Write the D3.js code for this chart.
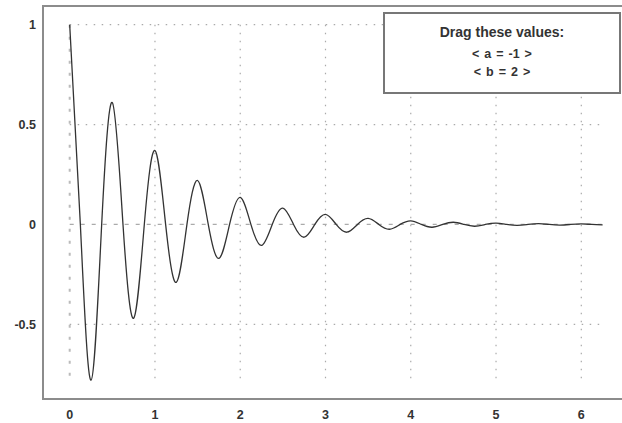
<!DOCTYPE html>
<html><head><meta charset="utf-8">
<script src="https://cdn.jsdelivr.net/npm/d3@7"></script>
<style>body{margin:0;background:#fff}svg{display:block}text{font-family:"Liberation Sans",Arial,sans-serif;font-weight:bold;fill:#333}</style>
</head><body><svg id="c" width="622" height="423"></svg>
<script>
// Curve samples: extrema and zero crossings
const xs = [0,0.125,0.25,0.375,0.5,0.625,0.75,0.875,1,1.125,1.25,1.375,1.5,1.625,1.75,1.875,2,2.125,2.25,2.375,2.5,2.625,2.75,2.875,3,3.125,3.25,3.375,3.5,3.625,3.75,3.875,4,4.125,4.25,4.375,4.5,4.625,4.75,4.875,5,5.125,5.25,5.375,5.5,5.625,5.75,5.875,6,6.125,6.25];
const ys = [1,0,-0.78,0,0.61,0,-0.47,0,0.37,0,-0.29,0,0.22,0,-0.17,0,0.135,0,-0.105,0,0.082,0,-0.064,0,0.05,0,-0.039,0,0.03,0,-0.024,0,0.018,0,-0.014,0,0.011,0,-0.009,0,0.007,0,-0.005,0,0.004,0,-0.003,0,0.0025,0,-0.002];
const xTicks = [0,1,2,3,4,5,6];
const yTicks = [-0.5,0,0.5,1];
const xGridExtent = [0, 6.283];
const yGridExtent = [-0.8, 1];
const legendLines = ["Drag these values:", "< a = -1 >", "< b = 2 >"];

const svg = d3.select("#c");
const x = d3.scaleLinear().domain([0,6]).range([69.7,581.3]);
const y = d3.scaleLinear().domain([-0.5,1]).range([324.3,24.7]);

// frame
svg.append("rect").attr("x",43).attr("y",6).attr("width",640).attr("height",393)
  .attr("fill","none").attr("stroke","#8c8c8c").attr("stroke-width",2);

// grid
const g = svg.append("g");
xTicks.filter(d=>d!==0).forEach(d=>{
  g.append("line").attr("x1",x(d)).attr("x2",x(d)).attr("y1",y(yGridExtent[1])).attr("y2",y(yGridExtent[0]))
   .attr("stroke","#aaa").attr("stroke-width",1.2).attr("stroke-dasharray","1.5,6.5");
});
yTicks.filter(d=>d!==0).forEach(d=>{
  g.append("line").attr("y1",y(d)).attr("y2",y(d)).attr("x1",x(xGridExtent[0])).attr("x2",x(xGridExtent[1]))
   .attr("stroke","#aaa").attr("stroke-width",1.2).attr("stroke-dasharray","1.5,6.5");
});
// zero axes (dashed)
g.append("line").attr("x1",x(0)).attr("x2",x(0)).attr("y1",y(yGridExtent[1])).attr("y2",y(yGridExtent[0]))
  .attr("stroke","#bbb").attr("stroke-width",2).attr("stroke-dasharray","3,9");
g.append("line").attr("y1",y(0)).attr("y2",y(0)).attr("x1",x(xGridExtent[0])).attr("x2",x(xGridExtent[1]))
  .attr("stroke","#aaa").attr("stroke-width",1.3).attr("stroke-dasharray","4,7");

// tick labels
svg.append("g").selectAll("text").data(xTicks).join("text")
  .attr("x",d=>x(d)).attr("y",419).attr("text-anchor","middle").attr("font-size",12.5).text(d=>d);
svg.append("g").selectAll("text").data(yTicks).join("text")
  .attr("x",36).attr("y",d=>y(d)+4.5).attr("text-anchor","end").attr("font-size",12.5).text(d=>d);

// curve
const pts = xs.map((v,i)=>[v,ys[i]]);
svg.append("path").datum(pts)
  .attr("d", d3.line().x(d=>x(d[0])).y(d=>y(d[1])).curve(d3.curveNatural))
  .attr("fill","none").attr("stroke","#333").attr("stroke-width",1.3);

// legend
svg.append("rect").attr("x",384).attr("y",13).attr("width",236).attr("height",80)
  .attr("fill","#fff").attr("stroke","#777").attr("stroke-width",2);
svg.append("g").selectAll("text").data(legendLines).join("text")
  .attr("x",502).attr("y",(d,i)=>[37,58,76][i]).attr("text-anchor","middle")
  .attr("font-size",(d,i)=>i===0?14:12.5).attr("word-spacing",(d,i)=>i===0?0:1.5).text(d=>d);
</script></body></html>
